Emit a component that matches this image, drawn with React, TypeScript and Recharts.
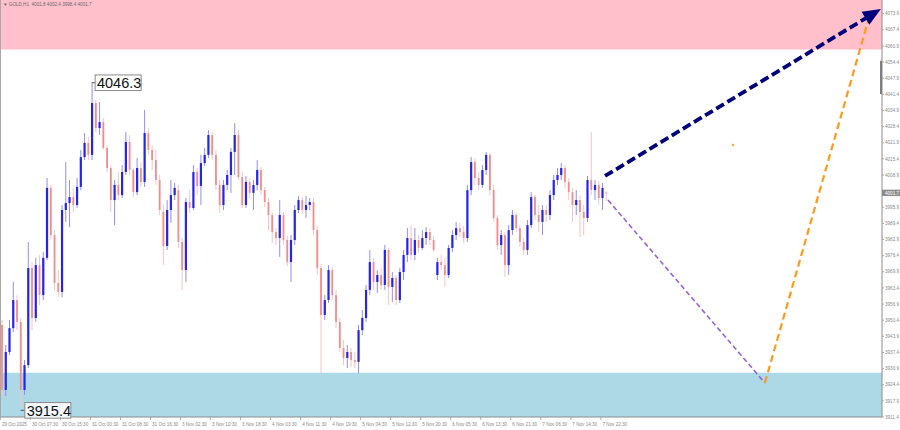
import React from 'react';
import { ComposedChart, Bar, XAxis, YAxis, ReferenceArea, ReferenceLine, ReferenceDot } from 'recharts';

// GOLD H1 candles (29 Oct 2025 – 7 Nov 2025)
const opens = [
  3948.5, 3922.3, 3937.6, 3947.2, 3958.5, 3949.7, 3922.3, 3932.3, 3971.4, 3951.3,
  3972.6, 3960.5, 3975.5, 4003.7, 3984.7, 3965.4, 3961.8, 3994.8, 3997.6, 4000.0,
  3996.8, 4004.1, 4016.1, 4021.8, 4017.0, 4037.9, 4027.8, 4030.2, 4019.8, 4011.7,
  3998.8, 4004.9, 4000.8, 4010.1, 4022.2, 4010.9, 4002.0, 4011.7, 4006.1, 4025.8,
  4019.0, 4014.9, 4006.9, 3994.0, 3980.3, 3994.8, 4000.8, 4002.8, 3981.9, 3970.6,
  3998.0, 3995.6, 4010.1, 4004.5, 4013.7, 4017.0, 4025.0, 4017.0, 4004.9, 3996.8,
  4004.9, 4008.9, 4018.2, 4025.0, 4008.1, 3996.8, 4006.1, 4001.7, 4004.9, 4010.9,
  4002.8, 3998.0, 3992.8, 3985.9, 3983.5, 3992.8, 3982.7, 3973.8, 3982.7, 3994.8,
  3998.8, 3994.8, 3996.8, 3998.0, 3986.7, 3971.4, 3952.5, 3958.5, 3970.6, 3960.5,
  3949.7, 3939.2, 3935.2, 3937.6, 3934.4, 3933.6, 3946.4, 3951.3, 3962.6, 3973.8,
  3965.8, 3968.6, 3964.6, 3978.7, 3963.8, 3967.4, 3958.5, 3969.8, 3976.7, 3983.5,
  3976.7, 3982.7, 3979.5, 3983.5, 3985.9, 3982.7, 3968.6, 3973.8, 3972.6, 3968.6,
  3979.5, 3984.7, 3987.5, 3985.9, 3983.5, 4002.8, 4014.1, 4007.7, 4004.9, 4010.9,
  4017.0, 4002.8, 3991.6, 3980.7, 3984.7, 3972.6, 3986.7, 3992.8, 3987.5, 3981.9,
  3978.7, 3988.7, 4000.0, 3992.8, 3990.0, 3994.8, 3992.8, 4000.8, 4006.9, 4008.9,
  4011.7, 4006.1, 4002.0, 3996.8, 3998.8, 3994.0, 3991.6, 4006.9, 4002.8, 4004.9,
  3999.6, 4001.8,
];
const highs = [
  3950.5, 3940.4, 3950.5, 3965.8, 3960.5, 3951.3, 3934.4, 3981.9, 3973.8, 3975.5,
  3976.7, 3977.9, 4007.7, 4004.9, 3986.7, 3970.6, 3996.8, 4014.1, 4006.9, 4003.7,
  4007.7, 4019.0, 4025.8, 4024.2, 4046.3, 4039.1, 4038.3, 4031.9, 4021.0, 4012.9,
  4006.9, 4010.1, 4012.9, 4026.2, 4025.0, 4011.7, 4015.7, 4014.1, 4035.1, 4027.8,
  4021.0, 4019.0, 4008.9, 3996.8, 3998.8, 4006.9, 4005.7, 4004.9, 3983.5, 3999.6,
  4002.8, 4012.9, 4011.7, 4017.0, 4019.8, 4027.0, 4026.2, 4019.0, 4006.9, 4006.9,
  4010.9, 4019.8, 4029.8, 4027.0, 4010.1, 4008.5, 4007.7, 4006.9, 4014.9, 4012.1,
  4004.1, 3999.6, 3994.0, 3987.5, 3998.8, 3994.0, 3984.3, 3984.7, 3996.8, 4000.4,
  4000.0, 4000.4, 3999.6, 3999.6, 3988.3, 3973.0, 3960.5, 3972.6, 3971.8, 3962.6,
  3951.3, 3942.4, 3940.4, 3939.2, 3937.6, 3948.5, 3954.5, 3964.6, 3978.7, 3975.5,
  3970.6, 3971.4, 3980.7, 3979.5, 3969.8, 3968.6, 3971.4, 3978.7, 3987.5, 3988.7,
  3987.5, 3984.7, 3986.7, 3987.9, 3987.5, 3984.3, 3975.5, 3976.7, 3975.5, 3980.7,
  3986.7, 3990.0, 3989.6, 3988.3, 4004.9, 4016.1, 4015.7, 4010.1, 4012.9, 4018.2,
  4017.8, 4004.9, 3992.8, 3986.7, 3985.9, 3988.7, 3994.8, 3994.0, 3988.7, 3983.5,
  3990.8, 4002.0, 4000.8, 3996.8, 3996.8, 3996.8, 4002.8, 4008.9, 4011.7, 4013.7,
  4012.9, 4007.7, 4003.7, 4002.8, 4000.8, 3996.8, 4008.5, 4026.2, 4006.9, 4006.5,
  4005.7, 4002.4,
];
const lows = [
  3920.3, 3919.9, 3936.4, 3945.6, 3946.4, 3915.4, 3920.3, 3931.1, 3946.4, 3949.7,
  3956.5, 3958.5, 3974.6, 3982.7, 3962.6, 3959.7, 3959.7, 3990.0, 3987.9, 3994.0,
  3995.6, 4002.8, 4014.9, 4014.9, 4014.9, 4026.2, 4025.0, 4019.0, 4010.1, 3994.0,
  3988.7, 3998.8, 3999.6, 4008.9, 4008.9, 4000.0, 4000.8, 4004.1, 4004.1, 4017.0,
  4010.9, 4004.9, 3992.8, 3972.6, 3978.7, 3989.6, 3998.8, 3979.5, 3962.6, 3965.8,
  3993.6, 3994.8, 4000.8, 3996.8, 4012.5, 4015.7, 4014.9, 4002.8, 3993.6, 3994.8,
  4002.8, 4001.7, 4008.9, 4006.9, 3995.6, 3995.6, 3999.6, 3994.8, 4002.8, 4000.8,
  3996.0, 3986.7, 3981.5, 3980.7, 3975.9, 3980.7, 3972.2, 3965.8, 3980.7, 3993.6,
  3993.2, 3991.6, 3994.8, 3984.7, 3968.6, 3929.1, 3950.5, 3957.3, 3958.5, 3947.2,
  3937.6, 3932.3, 3931.1, 3931.5, 3931.1, 3929.1, 3944.4, 3949.7, 3960.5, 3962.6,
  3961.4, 3962.6, 3962.6, 3956.5, 3957.7, 3956.5, 3957.3, 3966.6, 3973.8, 3974.6,
  3974.6, 3977.5, 3978.7, 3980.7, 3980.7, 3977.9, 3966.6, 3970.6, 3963.8, 3967.4,
  3977.9, 3982.7, 3983.9, 3981.5, 3981.9, 4000.8, 4004.9, 4002.8, 4003.7, 4008.9,
  4000.8, 3990.0, 3978.7, 3976.7, 3967.8, 3968.6, 3984.7, 3985.9, 3979.9, 3976.7,
  3976.7, 3987.5, 3990.8, 3985.9, 3984.7, 3990.0, 3990.8, 3998.8, 4004.9, 4006.9,
  4003.7, 3998.8, 3990.0, 3992.8, 3983.9, 3984.7, 3990.0, 4000.8, 3998.8, 3996.8,
  3994.8, 3998.4,
];
const closes = [
  3922.3, 3937.6, 3947.2, 3958.5, 3949.7, 3922.3, 3932.3, 3971.4, 3951.3, 3972.6,
  3960.5, 3975.5, 4003.7, 3984.7, 3965.4, 3961.8, 3994.8, 3997.6, 4000.0, 3996.8,
  4004.1, 4016.1, 4021.8, 4017.0, 4037.9, 4027.8, 4030.2, 4019.8, 4011.7, 3998.8,
  4004.9, 4000.8, 4010.1, 4022.2, 4010.9, 4002.0, 4011.7, 4006.1, 4025.8, 4019.0,
  4014.9, 4006.9, 3994.8, 3980.3, 3994.8, 4000.8, 4003.7, 3981.9, 3970.6, 3998.0,
  3995.6, 4010.1, 4004.5, 4013.7, 4017.0, 4025.0, 4017.0, 4004.9, 3996.8, 4004.9,
  4008.9, 4018.2, 4025.0, 4008.1, 3996.8, 4006.1, 4001.7, 4004.9, 4010.9, 4002.8,
  3998.0, 3992.8, 3985.9, 3983.5, 3992.8, 3982.7, 3973.8, 3982.7, 3994.8, 3998.8,
  3994.8, 3996.8, 3998.0, 3986.7, 3971.4, 3952.5, 3958.5, 3970.6, 3960.5, 3949.7,
  3939.2, 3935.2, 3937.6, 3934.4, 3933.6, 3946.4, 3951.3, 3962.6, 3973.8, 3965.8,
  3968.6, 3964.6, 3978.7, 3963.8, 3967.4, 3958.5, 3969.8, 3976.7, 3983.5, 3976.7,
  3982.7, 3979.5, 3983.5, 3985.9, 3982.7, 3978.7, 3973.8, 3972.6, 3968.6, 3979.5,
  3984.7, 3987.5, 3985.9, 3983.5, 4002.8, 4014.1, 4007.7, 4004.9, 4010.9, 4017.0,
  4002.8, 3991.6, 3980.7, 3984.7, 3972.6, 3986.7, 3992.8, 3987.5, 3981.9, 3978.7,
  3988.7, 4000.0, 3992.8, 3990.0, 3994.8, 3992.8, 4000.8, 4006.9, 4008.9, 4011.7,
  4006.1, 4002.0, 3996.8, 3998.8, 3994.0, 3991.6, 4006.9, 4002.8, 4004.9, 3999.6,
  4003.7, 4001.7,
];

const timeLabels = [
  '29 Oct 2025', '30 Oct 07:30', '30 Oct 15:30', '31 Oct 00:30', '31 Oct 08:30', '31 Oct 16:30',
  '3 Nov 02:30', '3 Nov 10:30', '3 Nov 18:30', '4 Nov 03:30', '4 Nov 11:30', '4 Nov 19:30',
  '5 Nov 04:30', '5 Nov 12:30', '5 Nov 20:30', '6 Nov 05:30', '6 Nov 13:30', '6 Nov 21:30',
  '7 Nov 06:30', '7 Nov 14:30', '7 Nov 22:30',
];
const BARS_PER_LABEL = 8;
const TOTAL_SLOTS = 235;

const priceTicks = [
  3911.4, 3917.9, 3924.4, 3930.9, 3937.4, 3943.9, 3950.4, 3956.9, 3963.4, 3969.9,
  3976.4, 3982.9, 3989.4, 3995.9, 4001.7, 4008.9, 4015.4, 4021.9, 4028.4, 4034.9,
  4041.4, 4047.9, 4054.4, 4060.9, 4067.4, 4073.9,
];
const currentPrice = 4001.7;
const priceDomain = [3911.4, 4079.4];

const sellZone = [4059.5, 4079.4];
const buyZone = [3911.4, 3929.2];

const highLabel = { idx: 24, price: 4046.3 };
const lowLabel = { idx: 5, price: 3915.4 };

// forecast paths: [startIdx, startPrice, endIdx, endPrice]
const mainForecast = [160.7, 4008.5, 234.2, 4075.8];
const pullbackPath = [161.5, 3998.8, 203.3, 3925.1];
const reboundPath = [203.3, 3925.1, 231.1, 4072.6];

const header = 'GOLD,H1  4001.8 4002.4 3998.4 4001.7';

const data = Array.from({ length: TOTAL_SLOTS }, (_, i) =>
  i < closes.length
    ? { idx: i, range: [lows[i], highs[i]], o: opens[i], h: highs[i], l: lows[i], c: closes[i] }
    : { idx: i, range: null }
);
const timeTicks = timeLabels.map((_, k) => k * BARS_PER_LABEL);

const FONT = "'Liberation Sans', Arial, sans-serif";

const Candle = (props: any) => {
  const { x, y, width, height, payload } = props;
  if (!payload || payload.o == null || x == null) return <g />;
  const { o, h, l, c } = payload;
  const top = Math.min(y, y + height);
  const hh = Math.abs(height);
  const ratio = h - l > 0 ? hh / (h - l) : 0;
  const cx = x + width / 2;
  const yO = top + (h - o) * ratio;
  const yC = top + (h - c) * ratio;
  const bull = c >= o;
  const bodyTop = Math.min(yO, yC);
  const bodyH = Math.max(Math.abs(yC - yO), 1);
  const wick = bull ? '#8f8ff2' : '#f6c4c4';
  const body = bull ? '#2424ea' : '#f28d8d';
  return (
    <g>
      <line x1={cx} x2={cx} y1={top} y2={top + hh} stroke={wick} strokeWidth={1} />
      <rect x={cx - (bull ? 1.1 : 0.9)} y={bodyTop} width={bull ? 2.2 : 1.8} height={bodyH} fill={body} />
    </g>
  );
};

const TimeTick = (props: any) => {
  const { x, y, payload } = props;
  const label = timeLabels[Math.round(payload.value / BARS_PER_LABEL)];
  return (
    <g>
      <line x1={x - 1.5} x2={x - 1.5} y1={y} y2={y + 3} stroke="#9a9a9a" strokeWidth={0.8} />
      <text x={x} y={y + 9} fontSize={4.6} fill="#8a8a8a" fontFamily={FONT}>{label}</text>
    </g>
  );
};

const PriceTick = (props: any) => {
  const { x, y, payload } = props;
  const v = payload.value as number;
  if (v === currentPrice) {
    return (
      <g>
        <rect x={x} y={y - 3.2} width={18} height={6.4} fill="#8c8c8c" />
        <text x={x + 3} y={y + 1.7} fontSize={4.6} fill="#ffffff" fontFamily={FONT}>{v.toFixed(1)}</text>
      </g>
    );
  }
  return (
    <g>
      <line x1={x} x2={x + 2} y1={y} y2={y} stroke="#9a9a9a" strokeWidth={0.8} />
      <text x={x + 3} y={y + 1.7} fontSize={4.6} fill="#8a8a8a" fontFamily={FONT}>{v.toFixed(1)}</text>
    </g>
  );
};

const PriceLabel = (dx: number, dy: number, text: string) => (props: any) => {
  const { cx, cy } = props;
  if (cx == null || cy == null) return <g />;
  const bx = cx + dx;
  const by = cy + dy;
  return (
    <g>
      <line x1={cx} x2={bx} y1={by} y2={by} stroke="#555" strokeWidth={1} />
      <rect x={bx} y={by - 7.8} width={46} height={15.6} fill="#ffffff" fillOpacity={0.85} stroke="#8a8a8a" strokeWidth={1} />
      <text x={bx + 1.8} y={by + 5.2} fontSize={14.5} fill="#111" fontFamily={FONT}>{text}</text>
    </g>
  );
};

const ArrowHead = (props: any) => {
  const { cx, cy } = props;
  if (cx == null || cy == null) return <g />;
  const ang = Math.atan2(-167, 276);
  const ux = Math.cos(ang), uy = Math.sin(ang);
  const len = 18, half = 7.5;
  const bx = cx - len * ux, by = cy - len * uy;
  const px = -uy, py = ux;
  const pts = `${cx},${cy} ${bx + half * px},${by + half * py} ${bx - half * px},${by - half * py}`;
  return <polygon points={pts} fill="#00007a" />;
};

export default function App() {
  return (
    <div style={{ position: 'fixed', left: 0, top: 0, width: 900, height: 430, background: '#fff' }}>
      <ComposedChart
        width={900}
        height={430}
        data={data}
        margin={{ top: 0, right: 0, bottom: 0, left: 0 }}
        barCategoryGap={0}
      >
        <XAxis
          xAxisId="c"
          dataKey="idx"
          type="category"
          ticks={timeTicks}
          interval={0}
          tick={<TimeTick />}
          tickLine={false}
          tickSize={0}
          tickMargin={0}
          height={13}
          axisLine={{ stroke: '#8c8c8c' }}
        />
        <XAxis xAxisId="n" dataKey="idx" type="number" domain={[-0.5, TOTAL_SLOTS - 0.5]} hide allowDataOverflow />
        <YAxis
          yAxisId="p"
          orientation="right"
          width={18}
          domain={priceDomain}
          ticks={priceTicks}
          interval={0}
          tick={<PriceTick />}
          tickLine={false}
          tickSize={0}
          tickMargin={0}
          axisLine={{ stroke: '#8c8c8c' }}
          allowDataOverflow
        />
        <ReferenceArea xAxisId="n" yAxisId="p" y1={sellZone[0]} y2={sellZone[1]} fill="#ffc0cb" fillOpacity={1} stroke="none" />
        <ReferenceArea xAxisId="n" yAxisId="p" y1={buyZone[0]} y2={buyZone[1]} fill="#add8e6" fillOpacity={1} stroke="none" />
        <ReferenceArea xAxisId="n" yAxisId="p" x1={234.0} x2={234.5} y1={4041.5} y2={4054.9} fill="#6e6e6e" fillOpacity={1} stroke="none" />
        <Bar xAxisId="c" yAxisId="p" dataKey="range" shape={(p: any) => <Candle {...p} />} isAnimationActive={false} />
        <ReferenceLine
          xAxisId="n" yAxisId="p" ifOverflow="visible"
          segment={[{ x: pullbackPath[0], y: pullbackPath[1] }, { x: pullbackPath[2], y: pullbackPath[3] }]}
          stroke="#9a62d6" strokeWidth={1.6} strokeDasharray="5 3"
        />
        <ReferenceLine
          xAxisId="n" yAxisId="p" ifOverflow="visible"
          segment={[{ x: reboundPath[0], y: reboundPath[1] }, { x: reboundPath[2], y: reboundPath[3] }]}
          stroke="#ff9a1a" strokeWidth={2.2} strokeDasharray="7 4"
        />
        <ReferenceLine
          xAxisId="n" yAxisId="p" ifOverflow="visible"
          segment={[{ x: 194.6, y: 4021.4 }, { x: 195.0, y: 4020.6 }]}
          stroke="#ff9a1a" strokeWidth={1.5}
        />
        <ReferenceLine
          xAxisId="n" yAxisId="p" ifOverflow="visible"
          segment={[{ x: mainForecast[0], y: mainForecast[1] }, { x: mainForecast[2] - 3, y: mainForecast[3] - 2.8 }]}
          stroke="#00007a" strokeWidth={3.8} strokeDasharray="9 4"
        />
        <ReferenceDot xAxisId="n" yAxisId="p" x={mainForecast[2]} y={mainForecast[3]} ifOverflow="visible" shape={(p: any) => <ArrowHead {...p} />} />
        <ReferenceDot
          xAxisId="n" yAxisId="p" x={highLabel.idx} y={highLabel.price} ifOverflow="visible"
          shape={PriceLabel(3.2, 0.6, highLabel.price.toFixed(1))}
        />
        <ReferenceDot
          xAxisId="n" yAxisId="p" x={lowLabel.idx} y={lowLabel.price} ifOverflow="visible"
          shape={PriceLabel(4.2, 3.3, lowLabel.price.toFixed(1))}
        />
      </ComposedChart>
      <div style={{ position: 'absolute', left: 0, top: 0, width: 1, height: 417, background: '#a8a8a8' }} />
      <div style={{ position: 'absolute', left: 3, top: 2, fontSize: 4.6, lineHeight: '6px', color: '#6a6a6a', fontFamily: FONT, whiteSpace: 'pre' }}>
        {'\u25BC ' + header}
      </div>
    </div>
  );
}
